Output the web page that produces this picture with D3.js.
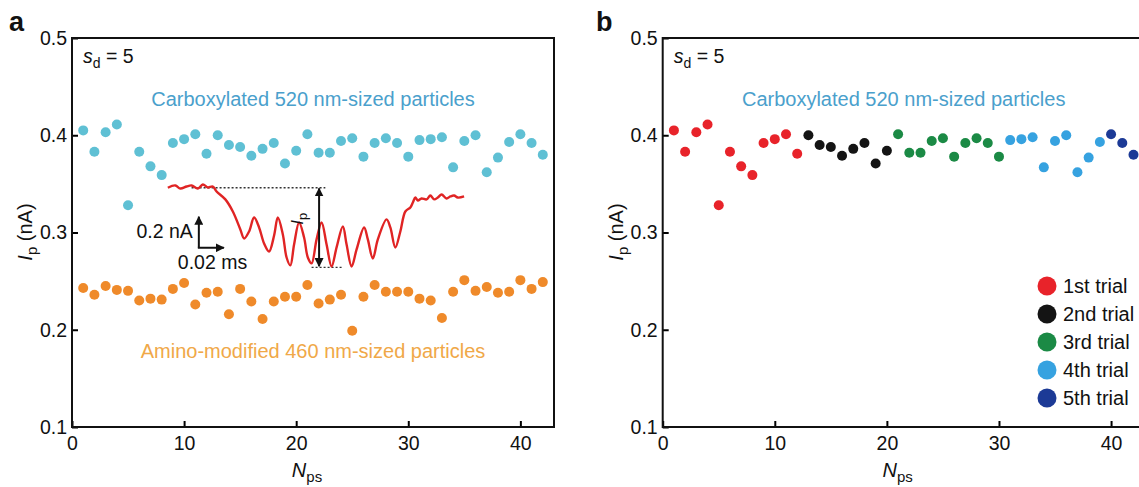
<!DOCTYPE html>
<html>
<head>
<meta charset="utf-8">
<script src="https://cdn.jsdelivr.net/npm/d3@7"></script>
<style>
  body { margin: 0; background: #fff; overflow: hidden; }
  svg { font-family: "Liberation Sans", Arial, sans-serif; }
</style>
</head>
<body>
<svg id="chart" width="1139" height="487"></svg>
<script>
// N_ps index for each particle
const nps = d3.range(1, 43);

// carboxylated 520 nm particles, Ip (nA)
const carboxyIp = [0.405, 0.383, 0.403, 0.411, 0.328, 0.383, 0.368, 0.359, 0.392, 0.396,
                   0.401, 0.381, 0.400, 0.390, 0.388, 0.379, 0.386, 0.392, 0.371, 0.384,
                   0.401, 0.382, 0.382, 0.394, 0.397, 0.378, 0.392, 0.397, 0.392, 0.378,
                   0.395, 0.396, 0.398, 0.367, 0.394, 0.400, 0.362, 0.377, 0.393, 0.401,
                   0.392, 0.380];

// amino-modified 460 nm particles, Ip (nA)
const aminoIp = [0.243, 0.236, 0.245, 0.241, 0.240, 0.230, 0.232, 0.231, 0.242, 0.248,
                 0.226, 0.238, 0.239, 0.216, 0.242, 0.229, 0.211, 0.229, 0.234, 0.234,
                 0.246, 0.227, 0.231, 0.236, 0.199, 0.234, 0.246, 0.239, 0.239, 0.239,
                 0.232, 0.230, 0.212, 0.239, 0.251, 0.240, 0.244, 0.238, 0.239, 0.251,
                 0.242, 0.249];

// trial that each carboxylated particle belongs to (panel b)
const trialNames = ['1st trial', '2nd trial', '3rd trial', '4th trial', '5th trial'];
const trialColors = ['#e8232a', '#141414', '#1b8a45', '#36a2e0', '#1c3a96'];
const trialSizes = [12, 8, 10, 9, 3];

// example current trace for the inset: time (ms), current change (nA)
const traceT = [0.000, 0.006, 0.010, 0.015, 0.019, 0.024, 0.028, 0.032, 0.036, 0.039,
                0.046, 0.052, 0.058, 0.061, 0.065, 0.069, 0.073, 0.077, 0.081, 0.085,
                0.088, 0.092, 0.095, 0.098, 0.101, 0.105, 0.109, 0.112, 0.115, 0.119,
                0.123, 0.127, 0.131, 0.135, 0.140, 0.143, 0.147, 0.151, 0.157, 0.160,
                0.164, 0.168, 0.175, 0.178, 0.182, 0.186, 0.190, 0.194, 0.196, 0.198,
                0.200, 0.203, 0.207, 0.210, 0.213, 0.216, 0.219, 0.223, 0.226, 0.229,
                0.232, 0.237];
const traceI = [0.000, 0.015, -0.005, 0.008, 0.015, -0.005, 0.021, 0.002, 0.008, -0.024,
                -0.075, -0.153, -0.269, -0.327, -0.282, -0.192, -0.256, -0.359, -0.411, -0.308,
                -0.192, -0.301, -0.450, -0.501, -0.366, -0.224, -0.321, -0.450, -0.488, -0.333,
                -0.224, -0.366, -0.508, -0.385, -0.250, -0.366, -0.508, -0.398, -0.256, -0.333,
                -0.456, -0.333, -0.204, -0.256, -0.385, -0.282, -0.153, -0.127, -0.095, -0.063,
                -0.082, -0.069, -0.075, -0.050, -0.075, -0.063, -0.043, -0.069, -0.056, -0.050,
                -0.063, -0.056];

const yTicks = [0.1, 0.2, 0.3, 0.4, 0.5];
const xTicks = [0, 10, 20, 30, 40];

const cyan = '#5fc0d4';
const cyanText = '#4aa0cc';
const orange = '#ef8a2a';
const orangeText = '#f0a848';
const traceRed = '#e02424';

const svg = d3.select('#chart');

// trial index for each point
let trialOf = [];
trialSizes.forEach((n, i) => { for (let k = 0; k < n; ++k) trialOf.push(i); });

function drawFrame(left, tag)
{
    let x = d3.scaleLinear().domain([0, 43]).range([left, left + 482]);
    let y = d3.scaleLinear().domain([0.1, 0.5]).range([427, 38]);
    let g = svg.append('g').attr('class', 'panel-' + tag);

    // ticks inside the frame
    g.append('g')
        .attr('transform', 'translate(0,427)')
        .call(d3.axisBottom(x).tickValues(xTicks).tickSizeInner(-6).tickSizeOuter(0).tickPadding(9))
        .call(a => a.select('.domain').remove())
        .call(a => a.selectAll('line').attr('stroke-width', 2))
        .call(a => a.selectAll('text').attr('font-size', 19.5).attr('fill', '#111'));

    g.append('g')
        .attr('transform', 'translate(' + left + ',0)')
        .call(d3.axisLeft(y).tickValues(yTicks).tickFormat(d3.format('.1f')).tickSizeInner(-6).tickSizeOuter(0).tickPadding(5))
        .call(a => a.select('.domain').remove())
        .call(a => a.selectAll('line').attr('stroke-width', 2))
        .call(a => a.selectAll('text').attr('font-size', 19.5).attr('fill', '#111'));

    g.append('rect')
        .attr('x', x(0)).attr('y', y(0.5))
        .attr('width', x(43) - x(0)).attr('height', y(0.1) - y(0.5))
        .attr('fill', 'none').attr('stroke', '#111').attr('stroke-width', 2);

    // axis titles
    let xt = g.append('text')
        .attr('x', (x(0) + x(43)) / 2 - 6).attr('y', 477)
        .attr('text-anchor', 'middle').attr('font-size', 20).attr('fill', '#111');
    xt.append('tspan').attr('font-style', 'italic').text('N');
    xt.append('tspan').attr('font-size', 15).attr('dy', 5).text('ps');

    let yt = g.append('text')
        .attr('transform', 'translate(' + (left - 40) + ',232) rotate(-90)')
        .attr('text-anchor', 'middle').attr('font-size', 20).attr('fill', '#111');
    yt.append('tspan').attr('font-style', 'italic').text('I');
    yt.append('tspan').attr('font-size', 15).attr('dy', 5).text('p');
    yt.append('tspan').attr('dy', -5).text(' (nA)');

    // s_d = 5
    let sd = g.append('text')
        .attr('x', left + 11).attr('y', 63)
        .attr('font-size', 19.5).attr('fill', '#111');
    sd.append('tspan').attr('font-style', 'italic').text('s');
    sd.append('tspan').attr('font-size', 14).attr('dy', 5).text('d');
    sd.append('tspan').attr('dy', -5).text(' = 5');

    g.append('text')
        .attr('x', x(21.5)).attr('y', 106)
        .attr('text-anchor', 'middle').attr('font-size', 20).attr('fill', cyanText)
        .text('Carboxylated 520 nm-sized particles');

    return { g: g, x: x, y: y };
}

// ---------- panel a ----------
let pa = drawFrame(72, 'a');

svg.append('text').attr('x', 9).attr('y', 31)
    .attr('font-size', 27).attr('font-weight', 'bold').attr('fill', '#111').text('a');

pa.g.append('text')
    .attr('x', pa.x(21.5)).attr('y', 358)
    .attr('text-anchor', 'middle').attr('font-size', 20).attr('fill', orangeText)
    .text('Amino-modified 460 nm-sized particles');

pa.g.selectAll('.dots-carboxy')
    .data(nps)
    .enter().append('circle')
    .attr('class', 'dots dots-carboxy')
    .attr('cx', (d) => pa.x(d))
    .attr('cy', (d, i) => pa.y(carboxyIp[i]))
    .attr('r', 5)
    .attr('fill', cyan);

pa.g.selectAll('.dots-amino')
    .data(nps)
    .enter().append('circle')
    .attr('class', 'dots dots-amino')
    .attr('cx', (d) => pa.x(d))
    .attr('cy', (d, i) => pa.y(aminoIp[i]))
    .attr('r', 5)
    .attr('fill', orange);

// inset: current trace, anchored in panel a data space
let ox = pa.x(8.55), oy = pa.y(0.346);
let tx = d3.scaleLinear().domain([0, 0.02]).range([ox, ox + 25]);
let ty = d3.scaleLinear().domain([0, 0.2]).range([oy, oy - 31]);

let defs = svg.append('defs');
defs.append('marker')
    .attr('id', 'arrow')
    .attr('viewBox', '0 0 10 10')
    .attr('refX', 9).attr('refY', 5)
    .attr('markerWidth', 9).attr('markerHeight', 9)
    .attr('markerUnits', 'userSpaceOnUse')
    .attr('orient', 'auto-start-reverse')
    .append('path').attr('d', 'M0,0 L10,5 L0,10 z').attr('fill', '#111');

let inset = pa.g.append('g').attr('class', 'inset');

inset.append('line')
    .attr('x1', tx(0.019)).attr('x2', tx(0.126))
    .attr('y1', ty(0)).attr('y2', ty(0))
    .attr('stroke', '#333').attr('stroke-width', 1.3).attr('stroke-dasharray', '2,2');
inset.append('line')
    .attr('x1', tx(0.115)).attr('x2', tx(0.139))
    .attr('y1', ty(-0.513)).attr('y2', ty(-0.513))
    .attr('stroke', '#333').attr('stroke-width', 1.3).attr('stroke-dasharray', '2,2');

inset.append('path')
    .datum(traceT)
    .attr('d', d3.line().x((d) => tx(d)).y((d, i) => ty(traceI[i])).curve(d3.curveCatmullRom))
    .attr('fill', 'none').attr('stroke', traceRed).attr('stroke-width', 2.4);

// Ip double arrow
inset.append('line')
    .attr('x1', tx(0.121)).attr('x2', tx(0.121))
    .attr('y1', ty(-0.004)).attr('y2', ty(-0.506))
    .attr('stroke', '#111').attr('stroke-width', 2)
    .attr('marker-start', 'url(#arrow)').attr('marker-end', 'url(#arrow)');

let ip = inset.append('text')
    .attr('transform', 'translate(' + (tx(0.108)) + ',' + ty(-0.2) + ') rotate(-90)')
    .attr('text-anchor', 'middle').attr('font-size', 17).attr('fill', '#111');
ip.append('tspan').attr('font-style', 'italic').text('I');
ip.append('tspan').attr('font-size', 13).attr('dy', 4).text('p');

// scale bar
let sb0 = 0.0248, sbI = -0.387;
inset.append('line')
    .attr('x1', tx(sb0)).attr('x2', tx(sb0))
    .attr('y1', ty(sbI)).attr('y2', ty(sbI + 0.2))
    .attr('stroke', '#111').attr('stroke-width', 2).attr('marker-end', 'url(#arrow)');
inset.append('line')
    .attr('x1', tx(sb0) - 1).attr('x2', tx(sb0 + 0.02))
    .attr('y1', ty(sbI)).attr('y2', ty(sbI))
    .attr('stroke', '#111').attr('stroke-width', 2).attr('marker-end', 'url(#arrow)');
inset.append('text')
    .attr('x', tx(sb0) - 6).attr('y', ty(sbI) - 10)
    .attr('text-anchor', 'end').attr('font-size', 19.5).attr('fill', '#111')
    .text('0.2 nA');
inset.append('text')
    .attr('x', tx(sb0) - 21).attr('y', ty(sbI) + 21)
    .attr('font-size', 19.5).attr('fill', '#111')
    .text('0.02 ms');

// ---------- panel b ----------
let pb = drawFrame(662.7, 'b');

svg.append('text').attr('x', 596).attr('y', 31)
    .attr('font-size', 27).attr('font-weight', 'bold').attr('fill', '#111').text('b');

pb.g.selectAll('.dots-trial')
    .data(nps)
    .enter().append('circle')
    .attr('class', 'dots dots-trial')
    .attr('cx', (d) => pb.x(d))
    .attr('cy', (d, i) => pb.y(carboxyIp[i]))
    .attr('r', 5)
    .attr('fill', (d, i) => trialColors[trialOf[i]]);

let legend = pb.g.append('g').attr('class', 'legend');
trialNames.forEach((name, i) => {
    legend.append('circle')
        .attr('cx', 1047).attr('cy', 286 + i * 28)
        .attr('r', 9.5).attr('fill', trialColors[i]);
    legend.append('text')
        .attr('x', 1063).attr('y', 293 + i * 28)
        .attr('font-size', 20).attr('fill', '#111')
        .text(name);
});
</script>
</body>
</html>
